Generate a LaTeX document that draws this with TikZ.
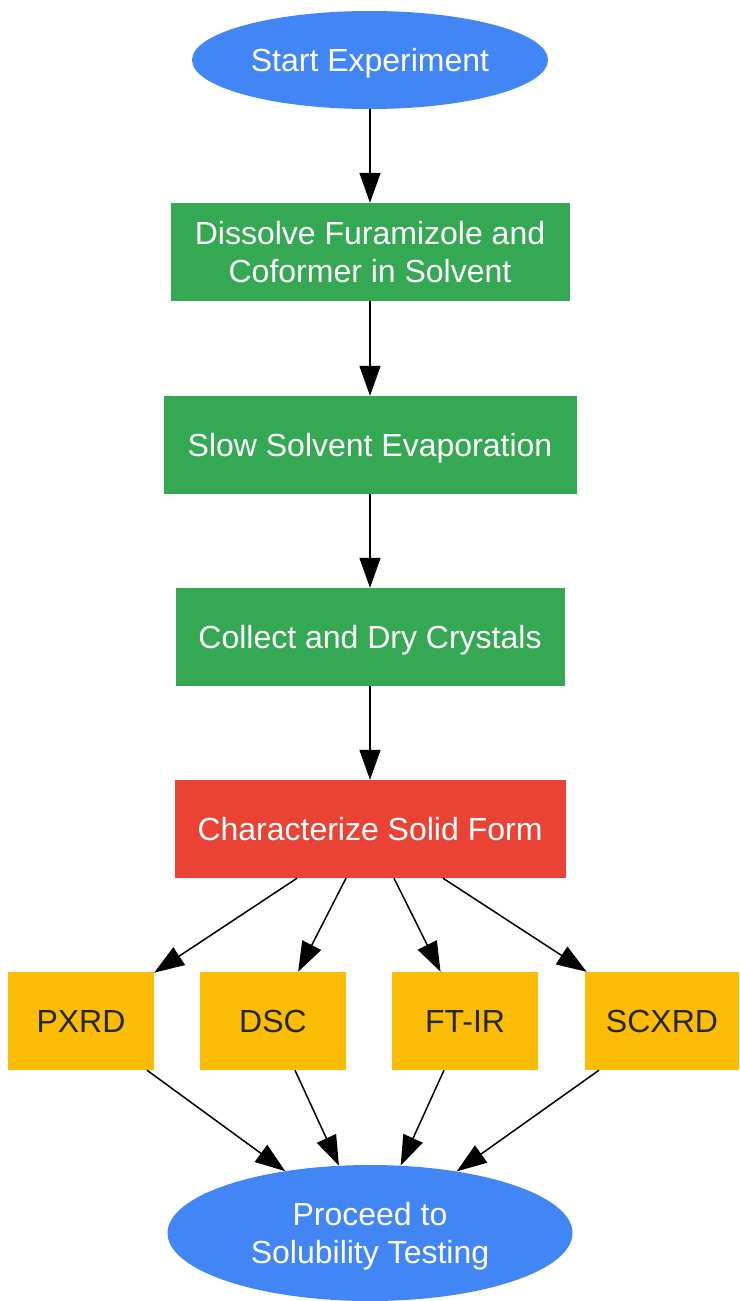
\documentclass[tikz,border=0pt]{standalone}
\usepackage{fontspec}
\setmainfont{Liberation Sans}
\usetikzlibrary{shapes.geometric,arrows.meta,calc}
\definecolor{gblue}{HTML}{4285F4}
\definecolor{ggreen}{HTML}{34A853}
\definecolor{gred}{HTML}{EA4335}
\definecolor{gyellow}{HTML}{FBBC05}
\tikzset{
  flowtext/.style={font=\fontsize{32}{38}\selectfont, text=white, align=center, inner sep=0pt, text depth=0pt},
  startstop/.style={flowtext, ellipse, fill=gblue},
  stepbox/.style={flowtext, rectangle, fill=ggreen, minimum height=98pt},
  checkbox/.style={flowtext, rectangle, fill=gred, minimum height=98pt, minimum width=391pt},
  methodbox/.style={flowtext, rectangle, fill=gyellow, text=black!85, minimum height=98pt, minimum width=146pt},
  flowarrow/.style={line width=1.5pt, -{Triangle[length=30pt,width=21pt]}}
}
\begin{document}
\begin{tikzpicture}[x=1pt,y=-1pt]
    \useasboundingbox (0,0) rectangle (739,1301);

    %% nodes
    \node[startstop, minimum width=356pt, minimum height=98pt] (start) at (370,60) {Start Experiment};
    \node[stepbox, minimum width=399pt] (dissolve) at (370,252) {Dissolve Furamizole and\\Coformer in Solvent};
    \node[stepbox, minimum width=413pt] (evap) at (370,445) {Slow Solvent Evaporation};
    \node[stepbox, minimum width=389pt] (collect) at (370,637) {Collect and Dry Crystals};
    \node[checkbox] (charac) at (370,829) {Characterize Solid Form};
    \node[methodbox] (pxrd) at (81,1021) {PXRD};
    \node[methodbox] (dsc) at (273,1021) {DSC};
    \node[methodbox] (ftir) at (465,1021) {FT-IR};
    \node[methodbox, minimum width=154pt] (scxrd) at (662,1021) {SCXRD};
    \node[startstop, minimum width=405pt, minimum height=136pt] (proceed) at (370,1233) {Proceed to\\Solubility Testing};

    %% arrow start points
    \coordinate (c1) at ($(charac.south)+(-73,0)$);
    \coordinate (c2) at ($(charac.south)+(-24,0)$);
    \coordinate (c3) at ($(charac.south)+(24,0)$);
    \coordinate (c4) at ($(charac.south)+(73,0)$);
    \coordinate (p1) at ($(pxrd.south)+(66,0)$);
    \coordinate (p2) at ($(dsc.south)+(22,0)$);
    \coordinate (p3) at ($(ftir.south)+(-21,0)$);
    \coordinate (p4) at ($(scxrd.south)+(-63,0)$);

    %% arrows
    \draw[flowarrow] (start) -- (dissolve);
    \draw[flowarrow] (dissolve) -- (evap);
    \draw[flowarrow] (evap) -- (collect);
    \draw[flowarrow] (collect) -- (charac);
    \draw[flowarrow] (c1) -- (pxrd);
    \draw[flowarrow] (c2) -- (dsc);
    \draw[flowarrow] (c3) -- (ftir);
    \draw[flowarrow] (c4) -- (scxrd);
    \draw[flowarrow] (p1) -- (proceed);
    \draw[flowarrow] (p2) -- (proceed);
    \draw[flowarrow] (p3) -- (proceed);
    \draw[flowarrow] (p4) -- (proceed);
\end{tikzpicture}
\end{document}
